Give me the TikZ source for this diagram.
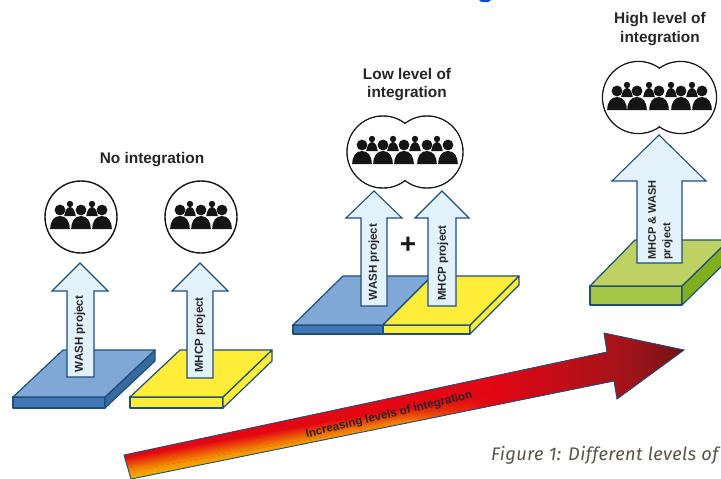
\documentclass[tikz,border=0pt]{standalone}
\usepackage{fontspec}
\usetikzlibrary{fadings}
\setmainfont{Liberation Sans}
\newfontfamily\capfont[LetterSpace=2.5]{Fira Sans}
\definecolor{edge}{HTML}{1F4E79}
\definecolor{bluetop}{HTML}{7FA8D6}
\definecolor{bluefront}{HTML}{3F78B4}
\definecolor{blueside}{HTML}{376A9E}
\definecolor{yel}{HTML}{FFED3A}
\definecolor{grtop}{HTML}{BDD262}
\definecolor{grfront}{HTML}{A6C64A}
\definecolor{grside}{HTML}{7FAE1E}
\definecolor{arrfill}{HTML}{E3F1FA}
\definecolor{ink}{HTML}{151515}
\definecolor{rd}{HTML}{E30613}
\definecolor{og}{HTML}{F39200}
\definecolor{yl}{HTML}{FFDD00}
\definecolor{dk}{HTML}{701214}
\definecolor{md}{HTML}{A0141A}
\definecolor{capcol}{HTML}{5A5245}
\tikzset{
  x=1pt,y=-1pt,
  face/.style={draw=edge,line width=1.2pt,line join=round},
  uparrow/.style={draw=edge,fill=arrfill,line width=1.1pt,line join=miter},
  title/.style={font=\fontsize{15.4}{18.5}\selectfont\bfseries,text=black!85,align=center,inner sep=0pt},
  arrlabel/.style={font=\fontsize{11.5}{14.5}\selectfont\bfseries,text=black!85,rotate=90,inner sep=0pt,align=left},
  blob/.style={draw=ink,line width=1.4pt,fill=white},
  bigperson/.pic={
    \fill[ink] (0,0) circle[radius=5.4];
    \fill[ink] (-9.8,19) .. controls (-9.8,11) and (-6,6) .. (0,6) .. controls (6,6) and (9.8,11) .. (9.8,19) -- cycle;
  },
  smallperson/.pic={
    \fill[ink] (0,0) circle[radius=3.2];
    \fill[ink] (-5.8,12) .. controls (-5,7) and (-3,3) .. (0,3) .. controls (3,3) and (5,7) .. (5.8,12) -- cycle;
  }
}
\newcommand{\crowd}[4]{% big xs, small xs, big y, small y
  \foreach \px in {#2} {\pic at (\px,#4) {smallperson};}
  \foreach \px in {#1} {\pic at (\px,#3) {bigperson};}
}
\newcommand{\twinblob}[3]{%
  \draw[blob] (#1,#3) circle[radius=36];
  \draw[blob] (#2,#3) circle[radius=36];
  \fill[white] (#1,#3) circle[radius=35.2];
  \fill[white] (#2,#3) circle[radius=35.2];
}
\begin{document}
\begin{tikzpicture}
\useasboundingbox (0,0) rectangle (721,479);
\fill[white] (0,0) rectangle (721,479);
\fill[blue!60!cyan!80!black] (485,0) ellipse[x radius=6,y radius=2.2];

% gradient arrow
\begin{scope}
  \clip (124,455) -- (607,352) -- (604,333) -- (684,350) -- (617,399) -- (614,381) -- (131,479) -- cycle;
  \fill[rd] (100,320) rectangle (700,500);
  \begin{scope}[transform canvas={rotate around={10:(124,457)}}]
    \shade[top color=rd,bottom color=og] (90,457) rectangle (560,472);
    \shade[top color=og,bottom color=yl] (90,472) rectangle (560,490);
  \end{scope}
  \fill[rd,path fading=west] (400,320) rectangle (490,420);
  \shade[left color=rd,right color=md] (490,320) rectangle (630,420);
  \shade[left color=md,right color=dk] (630,320) rectangle (690,420);
\end{scope}
\draw[edge,line width=0.9pt,line join=miter] (124,455) -- (607,352) -- (604,333) -- (684,350) -- (617,399) -- (614,381) -- (131,479) -- cycle;
\node[inner sep=0pt,rotate=13.5,font=\fontsize{11.6}{14}\selectfont\bfseries,text=black!85] (trend) at (389,415) {Increasing levels of integration};

% no integration
\node[title] (t1) at (152,160) {No integration};
\draw[face,fill=bluefront] (13,397) rectangle (105,408);
\draw[face,fill=blueside] (105,397) -- (155,350) -- (155,361) -- (105,408) -- cycle;
\draw[face,fill=bluetop] (63,350) -- (155,350) -- (105,397) -- (13,397) -- cycle;
\draw[face,fill=yel] (130,397) rectangle (223,408);
\draw[face,fill=yel] (223,397) -- (272,350) -- (272,361) -- (223,408) -- cycle;
\draw[face,fill=yel] (180,350) -- (272,350) -- (223,397) -- (130,397) -- cycle;
\draw[uparrow] (80,263) -- (108,291) -- (94,291) -- (94,377) -- (67,377) -- (67,291) -- (52,291) -- cycle;
\draw[uparrow] (200,263) -- (228,291) -- (213,291) -- (213,378) -- (187,378) -- (187,291) -- (172,291) -- cycle;
\node[arrlabel] (a1) at (80,334) {WASH project};
\node[arrlabel] (a2) at (200,335) {MHCP project};
\draw[blob] (81,217) circle[radius=36];
\draw[blob] (201,217) circle[radius=36];
\crowd{60,81,102}{70,92}{210}{204}
\crowd{180,201,222}{190,212}{210}{204}

% low level
\node[title] (t2) at (407,84.5) {Low level of\\integration};
\draw[face,fill=bluefront] (293,325) rectangle (383,334);
\draw[face,fill=yel] (383,325) rectangle (470,334);
\draw[face,fill=yel] (470,325) -- (519,276) -- (519,285) -- (470,334) -- cycle;
\draw[face,fill=bluetop] (343,276) -- (432,276) -- (383,325) -- (293,325) -- cycle;
\draw[face,fill=yel] (432,276) -- (519,276) -- (470,325) -- (383,325) -- cycle;
\draw[uparrow] (374,191) -- (402,218) -- (387,218) -- (387,306) -- (361,306) -- (361,218) -- (346,218) -- cycle;
\draw[uparrow] (442,191) -- (469,218) -- (456,218) -- (456,306) -- (428,306) -- (428,218) -- (415,218) -- cycle;
\node[arrlabel] (a3) at (374,262) {WASH project};
\node[arrlabel] (a4) at (443,263) {MHCP project};
\node[inner sep=0pt,font=\fontsize{28}{28}\selectfont\bfseries,text=black!90] (plus) at (408,245) {+};
\twinblob{383}{427}{152}
\crowd{362,383,404,427,448}{372,393,415,437}{145}{139}

% high level
\node[title] (t3) at (660,29) {High level of\\integration};
\draw[face,fill=grfront] (590,286) rectangle (682,305);
\draw[face,fill=grside] (682,286) -- (729,240) -- (729,259) -- (682,305) -- cycle;
\draw[face,fill=grtop] (635,240) -- (729,240) -- (682,286) -- (590,286) -- cycle;
\draw[uparrow] (659,135) -- (706,181) -- (682,181) -- (682,263) -- (637,263) -- (637,181) -- (612,181) -- cycle;
\node[arrlabel,font=\fontsize{11}{14.5}\selectfont\bfseries] (a5) at (660.5,220) {MHCP \& WASH\\project};
\twinblob{638.5}{680.5}{97.5}
\crowd{617,637,659,681,702}{627,649,671,692}{91}{85}

% caption
\node[inner sep=0pt,anchor=base west,font=\capfont\itshape\fontsize{18.2}{22}\selectfont,text=capcol] (cap) at (491,460) {Figure 1: Different levels of};
\end{tikzpicture}
\end{document}
